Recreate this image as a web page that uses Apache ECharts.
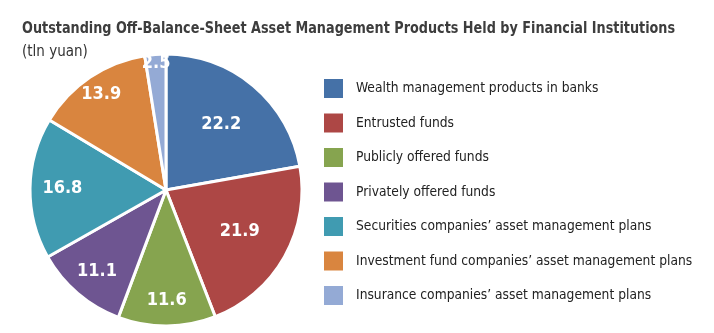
<!DOCTYPE html>
<html>
<head>
<meta charset="utf-8">
<script src="https://cdn.jsdelivr.net/npm/echarts@6/dist/echarts.min.js"></script>
<style>
html,body{margin:0;padding:0;background:#fff;}
#chart{width:714px;height:333px;}
</style>
</head>
<body>
<div id="chart"></div>
<script>
const titleText = 'Outstanding Off-Balance-Sheet Asset Management Products Held by Financial Institutions';
const unitText = '(tln yuan)';
const categories = [
  'Wealth management products in banks',
  'Entrusted funds',
  'Publicly offered funds',
  'Privately offered funds',
  'Securities companies\u2019 asset management plans',
  'Investment fund companies\u2019 asset management plans',
  'Insurance companies\u2019 asset management plans'
];
const values = [22.2, 21.9, 11.6, 11.1, 16.8, 13.9, 2.5];
const colors = ['#4571A7', '#AD4745', '#86A44F', '#6E5591', '#409BB1', '#D9853F', '#94AAD5'];

const FONT = "'Liberation Sans Narrow', 'DejaVu Sans Condensed', 'Arial Narrow', sans-serif";
const CENTER = [166, 190];
const R = 136;
// label distance from centre (fraction of radius) per slice
const labelDist = [0.61, 0.60, 0.79, 0.76, 0.74, 0.83, 0.91];

const pieData = categories.map((name, i) => ({
  name: name, value: values[i], itemStyle: { color: colors[i] }
}));

const series = [{
  type: 'pie',
  center: CENTER,
  radius: [0, R],
  startAngle: 90,
  clockwise: true,
  silent: true,
  label: { show: false },
  labelLine: { show: false },
  itemStyle: { borderColor: '#ffffff', borderWidth: 3 },
  data: pieData
}];

categories.forEach((name, k) => {
  const d = labelDist[k] * R;
  series.push({
    type: 'pie',
    center: CENTER,
    radius: [Math.max(0, 2 * d - R), R],
    startAngle: 90,
    clockwise: true,
    silent: true,
    z: 5,
    itemStyle: { color: 'rgba(0,0,0,0)', borderWidth: 0 },
    labelLine: { show: false },
    data: categories.map((n, i) => ({
      name: n,
      value: values[i],
      label: {
        show: i === k,
        position: 'inside',
        formatter: String(values[i].toFixed(1)),
        color: '#ffffff',
        fontFamily: FONT,
        fontWeight: 'bold',
        fontSize: 18
      }
    }))
  });
});

const chart = echarts.init(document.getElementById('chart'), null, { renderer: 'canvas' });
chart.setOption({
  animation: false,
  backgroundColor: '#ffffff',
  graphic: [{
    type: 'text',
    left: 22,
    top: 21,
    scaleX: 0.89,
    originX: 0,
    style: {
      text: titleText,
      fontFamily: FONT,
      fontWeight: 'bold',
      fontSize: 16,
      fill: '#3d3d3d'
    }
  }],
  title: [{
    text: unitText,
    left: 22,
    top: 45,
    padding: 0,
    textStyle: { fontFamily: FONT, fontWeight: 'normal', fontSize: 15, color: '#333333' }
  }],
  legend: {
    orient: 'vertical',
    left: 322,
    top: 77,
    padding: 0,
    itemWidth: 21,
    itemHeight: 21,
    itemGap: 11.5,
    icon: 'rect',
    selectedMode: false,
    data: categories,
    textStyle: { fontFamily: FONT, fontSize: 13.7, color: '#222222', padding: [0, 0, 0, 7] }
  },
  series: series
});
</script>
</body>
</html>
